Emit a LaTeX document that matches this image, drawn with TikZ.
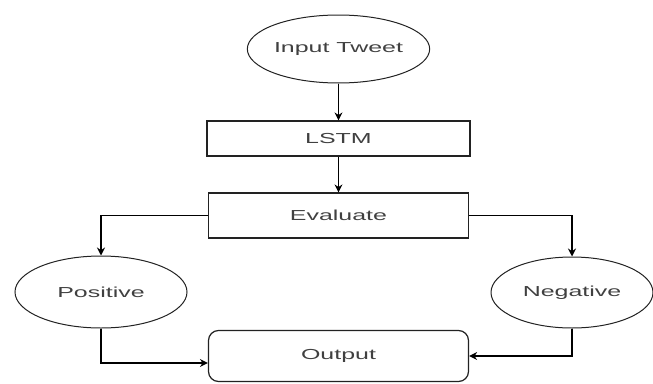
\documentclass[tikz,border=0pt]{standalone}
\usepackage{fontspec}
\newfontfamily\wide[FakeStretch=1.72]{Liberation Sans}
\usetikzlibrary{arrows.meta,shapes.geometric}
\definecolor{txt}{HTML}{404040}
\definecolor{edge}{HTML}{222222}
\begin{document}
\begin{tikzpicture}[x=1pt,y=-1pt,
  every node/.style={font=\wide\fontsize{14.5}{16}\selectfont, text=txt, inner sep=0pt},
  oval/.style={draw=edge, line width=1pt, ellipse},
  boxnode/.style={draw=edge, line width=1.2pt, rectangle},
  roundbox/.style={draw=edge, line width=1.2pt, rectangle, rounded corners=10pt},
  link/.style={draw=black, line width=1.4pt, -{Stealth[length=8pt,width=8pt]}}]
\useasboundingbox (0,0) rectangle (653,383);
\node[oval, minimum width=174, minimum height=68] (tweet) at (338.5,49) {Input Tweet};
\node[boxnode, minimum width=263, minimum height=35] (lstm) at (338.5,138.5) {LSTM};
\node[boxnode, minimum width=260, minimum height=45] (eval) at (338.5,215.5) {Evaluate};
\node[oval, minimum width=172, minimum height=72] (pos) at (101,292) {Positive};
\node[oval, minimum width=162, minimum height=71] (neg) at (572,292.5) {Negative};
\node[roundbox, minimum width=260, minimum height=51] (out) at (338.5,356) {Output};
\draw[link] (tweet.south) -- (lstm.north);
\draw[link] (lstm.south) -- (eval.north);
\draw[link] (eval.west) -| (pos.north);
\draw[link] (eval.east) -| (neg.north);
\draw[link] (pos.south) |- ([yshift=-7pt]out.west);
\draw[link] (neg.south) |- (out.east);
\end{tikzpicture}
\end{document}
